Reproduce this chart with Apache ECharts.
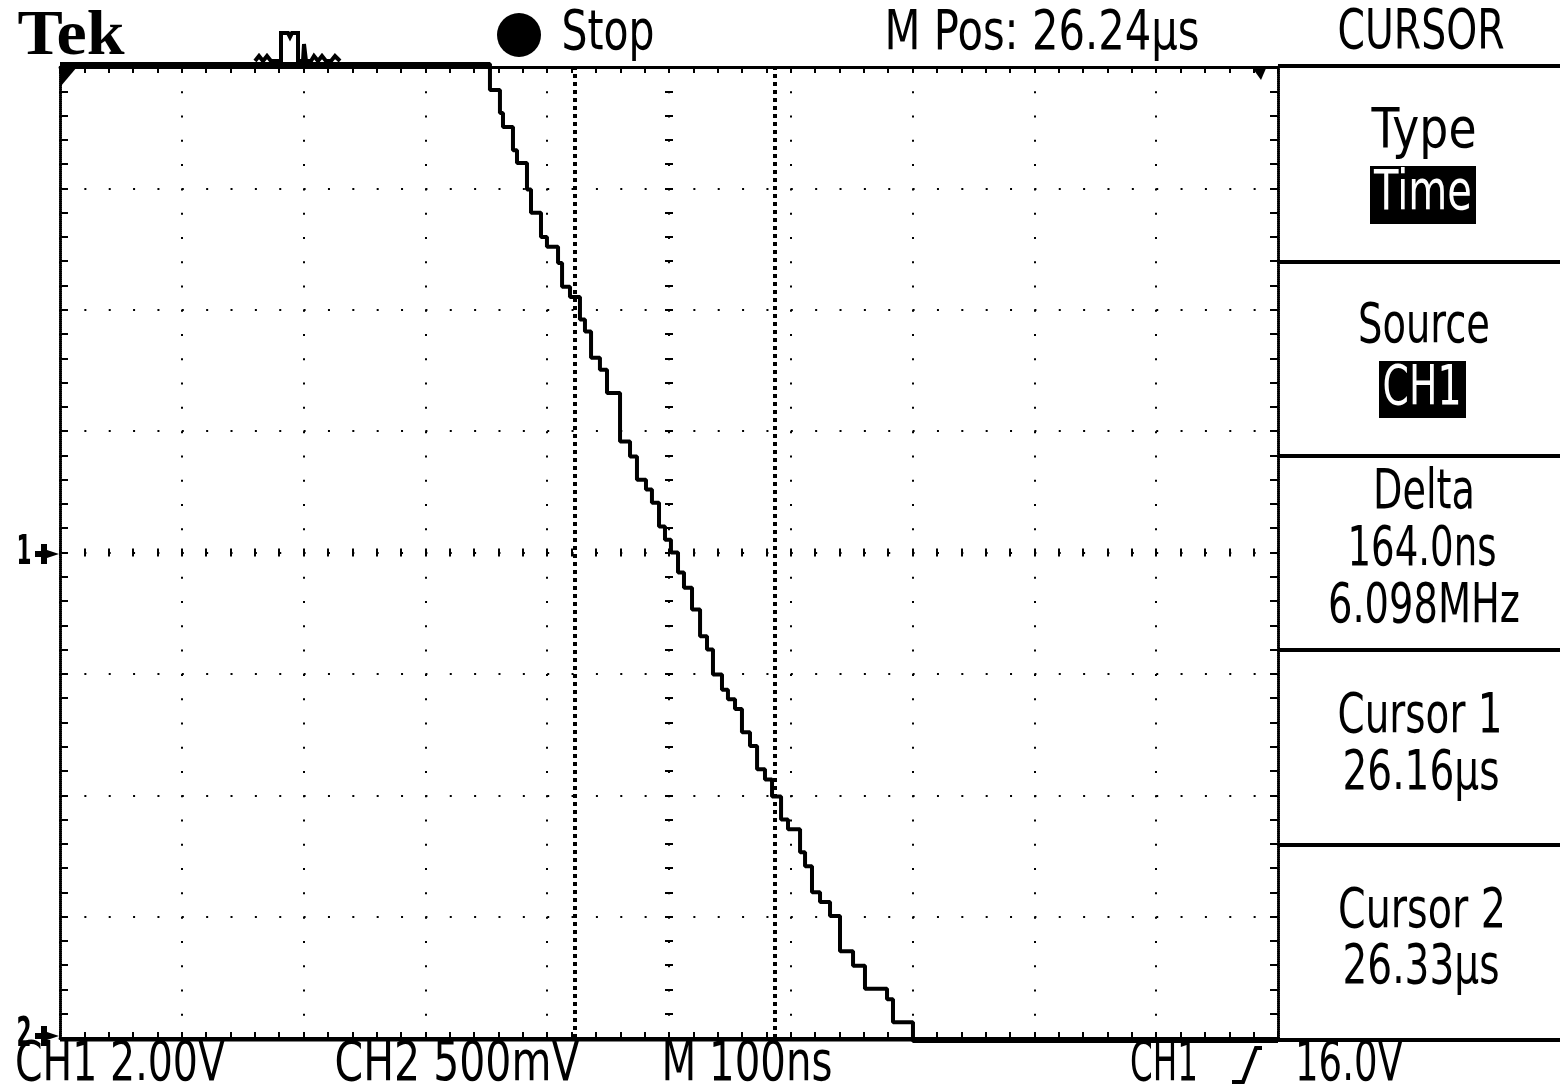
<!DOCTYPE html>
<html><head><meta charset="utf-8">
<script src="https://cdn.jsdelivr.net/npm/echarts@6/dist/echarts.min.js"></script>
<style>html,body{margin:0;padding:0;background:#fff}#c{width:1560px;height:1090px}</style>
</head><body><div id="c"></div>
<script>
// ---- Instrument settings ----
const mPosUs = 26.24;          // M Pos: time at screen centre (µs)
const timePerDivNs = 100;      // M 100ns
const ch1VoltsPerDiv = 2.0;    // CH1 2.00V
const ch2VoltsPerDiv = 0.5;    // CH2 500mV
const ch1PosDiv = 0;           // marker "1" at centre
const ch2PosDiv = -4;          // marker "2" at bottom edge
const cursorTimesUs = [26.163, 26.327]; // Cursor 1 / Cursor 2 (delta 164.0ns)

// ---- CH1 trace: time relative to M Pos (ns) and volts (staircase falling edge) ----
const ch1TimeNs = [-500, -147.0, -138.8, -136.3, -128.1, -124.8, -116.6, -113.3, -105.1, -100.2,
  -91.1, -87.8, -81.3, -73.1, -69.0, -64.0, -56.7, -50.9, -40.2, -32.0,
  -26.3, -18.9, -14.0, -8.2, -3.3, 1.6, 7.4, 12.3, 18.9, 25.5,
  31.2, 36.1, 43.5, 48.4, 54.2, 59.9, 66.5, 72.3, 78.8, 84.6,
  92.0, 97.7, 107.6, 111.7, 117.4, 124.0, 132.2, 140.4, 151.1, 160.9,
  179.0, 183.9, 200.3, 500];
const ch1Volts = [8.05, 7.62, 7.24, 7.01, 6.63, 6.42, 5.98, 5.60, 5.20, 5.04,
  4.77, 4.38, 4.21, 3.84, 3.64, 3.21, 3.01, 2.63, 1.83, 1.58,
  1.20, 1.04, 0.82, 0.43, 0.21, 0.00, -0.33, -0.58, -0.94, -1.38,
  -1.60, -2.01, -2.26, -2.42, -2.58, -2.96, -3.19, -3.57, -3.74, -4.02,
  -4.40, -4.56, -4.94, -5.17, -5.60, -5.76, -5.99, -6.57, -6.81, -7.19,
  -7.36, -7.74, -8.05, -8.05];

// ---- CH2 trace (flat at its ground, bottom of screen) ----
const ch2TimeNs = [-500, 500];
const ch2Volts = [-0.008, -0.008];

// ---- Screen texts ----
const headerTexts = ['Stop', 'M Pos: 26.24µs', 'CURSOR'];
const menuTexts = ['Type', 'Time', 'Source', 'CH1', 'Delta', '164.0ns', '6.098MHz', 'Cursor 1', '26.16µs', 'Cursor 2', '26.33µs'];
const footerTexts = ['CH1 2.00V', 'CH2 500mV', 'M 100ns', 'CH1', '16.0V'];

const ch1Data = ch1TimeNs.map((t, i) => [t, ch1Volts[i] / ch1VoltsPerDiv + ch1PosDiv]);
const ch2Data = ch2TimeNs.map((t, i) => [t, ch2Volts[i] / ch2VoltsPerDiv + ch2PosDiv]);
const cursorNs = cursorTimesUs.map(u => Math.round((u - mPosUs) * 1000));

const FONT = '"DejaVu Sans", "Noto Sans", sans-serif';
const mctx = document.createElement('canvas').getContext('2d');
function txt(str, cx, cy, width, size, opts) {
  opts = opts || {};
  const fam = opts.family || FONT, wt = opts.weight || 'normal';
  mctx.font = wt + ' ' + size + 'px ' + fam;
  const w = mctx.measureText(str).width;
  return { type: 'text', x: cx, y: cy, scaleX: width / w, z: 10, silent: true,
    style: { text: str, fontSize: size, fontFamily: fam, fontWeight: wt, fill: opts.color || '#000', align: 'center', verticalAlign: 'middle' } };
}
function rect(x, y, w, h) { return { type: 'rect', shape: { x, y, width: w, height: h }, style: { fill: '#000' }, silent: true, z: 5 }; }
function chMarker(label, cy) {
  return [
    txt(label, 24, cy, 15, 40, { weight: 'bold' }),
    { type: 'polygon', silent: true, shape: { points: [[35,cy-3],[41,cy-3],[41,cy-10],[47,cy-10],[47,cy-4],[59,cy],[47,cy+4],[47,cy+10],[41,cy+10],[41,cy+3],[35,cy+3]] }, style: { fill: '#000' } }
  ];
}

const S = 56;
const graphics = [
  txt('Tek', 71, 37, 107, 64, { family: '"Liberation Serif", serif', weight: 'bold' }),
  { type: 'polyline', silent: true, shape: { points: [[255,61],[259,56],[263,61],[267,56],[271,61],[281,61],[281,33],[288,33],[290,37],[292,33],[298,33],[298,61],[303,61],[304,44],[306,61],[311,61],[314,56],[318,61],[322,56],[326,61],[331,61],[335,56],[340,61]] }, style: { stroke: '#000', lineWidth: 4, fill: null, lineJoin: 'miter' } },
  { type: 'circle', silent: true, shape: { cx: 519, cy: 35, r: 22 }, style: { fill: '#000' } },
  txt(headerTexts[0], 608, 34, 93, S),
  txt(headerTexts[1], 1042, 34, 315, S),
  txt(headerTexts[2], 1421, 33, 167, S),
  // right menu separators
  rect(1278, 64, 282, 4), rect(1278, 260, 282, 4), rect(1278, 454, 282, 4),
  rect(1278, 648, 282, 4), rect(1278, 843, 282, 4), rect(1278, 1038, 282, 4),
  txt(menuTexts[0], 1424, 132, 105, S),
  rect(1370, 166, 106, 58),
  txt(menuTexts[1], 1423, 194, 98, S, { color: '#fff' }),
  txt(menuTexts[2], 1424, 327, 132, S),
  rect(1379, 361, 87, 57),
  txt(menuTexts[3], 1422, 389, 79, S, { color: '#fff' }),
  txt(menuTexts[4], 1424, 493, 102, S),
  txt(menuTexts[5], 1422, 550, 149, S),
  txt(menuTexts[6], 1424, 607, 192, S),
  txt(menuTexts[7], 1420, 717, 165, S),
  txt(menuTexts[8], 1421, 774, 157, S),
  txt(menuTexts[9], 1422, 912, 168, S),
  txt(menuTexts[10], 1421, 968, 157, S),
  // footer
  txt(footerTexts[0], 120, 1065, 210, S),
  txt(footerTexts[1], 457, 1065, 245, S),
  txt(footerTexts[2], 747, 1065, 171, S),
  txt(footerTexts[3], 1164, 1065, 68, S),
  { type: 'polyline', silent: true, shape: { points: [[1232,1082],[1243,1082],[1256,1048],[1262,1048]] }, style: { stroke: '#000', lineWidth: 4, fill: null } },
  txt(footerTexts[4], 1349, 1065, 108, S),
  // trigger position / horizontal markers
  { type: 'polygon', silent: true, z: 6, shape: { points: [[61,67],[77,67],[61,86]] }, style: { fill: '#000' } },
  { type: 'polygon', silent: true, z: 6, shape: { points: [[1251,66],[1267,66],[1261,80]] }, style: { fill: '#000' } }
].concat(chMarker('1', 554), chMarker('2', 1036));

const border = { show: true, onZero: false, lineStyle: { color: '#000', width: 3, type: [1, 1] } };
const dotsV = { show: true, lineStyle: { color: '#000', width: 2, type: [2, 22.275] } };
const dotsH = { show: true, lineStyle: { color: '#000', width: 2, type: [2, 22.36] } };
function xAx(pos, opt) {
  return Object.assign({ type: 'value', gridIndex: 0, min: -500, max: 500, interval: timePerDivNs, position: pos,
    axisLabel: { show: false }, splitLine: { show: false }, axisLine: { show: false, onZero: false } }, opt);
}
function yAx(pos, opt) {
  return Object.assign({ type: 'value', gridIndex: 0, min: -4, max: 4, interval: 1, position: pos,
    axisLabel: { show: false }, splitLine: { show: false }, axisLine: { show: false, onZero: false } }, opt);
}
const tk = (len, inside) => ({ show: true, inside: inside, length: len, lineStyle: { color: '#000', width: 2 } });
const mtk = (len) => ({ show: true, splitNumber: 5, length: len, lineStyle: { color: '#000', width: 2 } });

const option = {
  animation: false,
  backgroundColor: '#fff',
  grid: { left: 60, top: 67, width: 1218, height: 971, containLabel: false },
  xAxis: [
    xAx('bottom', { axisLine: border, axisTick: tk(6, true), minorTick: mtk(6), splitLine: dotsV }),
    xAx('top', { axisLine: border, axisTick: tk(6, true), minorTick: mtk(6) }),
    xAx('bottom', { offset: -485.5, axisTick: tk(4, true), minorTick: mtk(4) }),
    xAx('bottom', { offset: -485.5, axisTick: tk(4, false), minorTick: mtk(4) })
  ],
  yAxis: [
    yAx('left', { axisLine: border, axisTick: tk(8, true), minorTick: mtk(8), splitLine: dotsH }),
    yAx('right', { axisLine: border, axisTick: tk(8, true), minorTick: mtk(8) }),
    yAx('left', { offset: -609, axisTick: tk(4, true), minorTick: mtk(4) }),
    yAx('left', { offset: -609, axisTick: tk(4, false), minorTick: mtk(4) })
  ],
  graphic: graphics,
  series: [
    { name: 'CH1', type: 'line', xAxisIndex: 0, yAxisIndex: 0, step: 'end', data: ch1Data, showSymbol: false, symbol: 'none', clip: false,
      lineStyle: { color: '#000', width: 4 }, z: 4,
      markLine: { silent: true, symbol: ['none', 'none'], label: { show: false },
        lineStyle: { color: '#000', width: 4, type: [4, 4] },
        data: cursorNs.map(v => ({ xAxis: v })) } },
    { name: 'CH2', type: 'line', xAxisIndex: 0, yAxisIndex: 0, data: ch2Data, showSymbol: false, symbol: 'none', clip: false,
      lineStyle: { color: '#000', width: 3 }, z: 4 }
  ]
};
const chart = echarts.init(document.getElementById('c'), null, { renderer: 'canvas' });
chart.setOption(option);
</script></body></html>
